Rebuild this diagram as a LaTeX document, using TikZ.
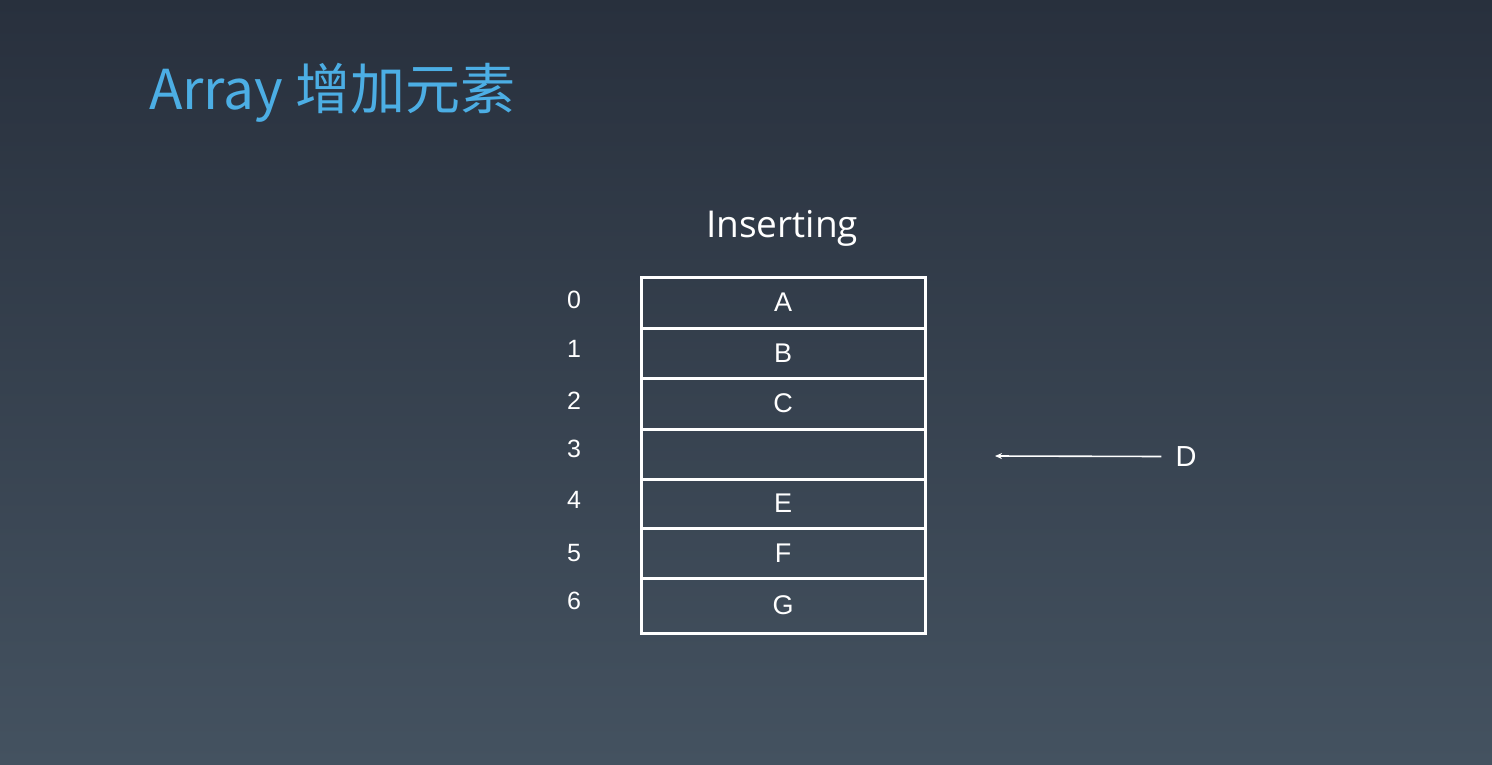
\documentclass[tikz,border=0pt]{standalone}
\usepackage{fontspec}
\setmainfont{Liberation Sans}
\newfontfamily\cjktitle{Noto Sans CJK SC}
\newfontfamily\headfont{Open Sans}
\usetikzlibrary{arrows.meta}

\definecolor{bgtop}{RGB}{40,48,61}
\definecolor{bgbot}{RGB}{68,82,96}
\definecolor{titleblue}{RGB}{76,174,228}

\tikzset{
  cell/.style={draw=white, line width=3pt, minimum width=284pt, inner sep=0pt,
               text=white, font=\fontsize{27}{30}\selectfont},
  idx/.style={text=white, inner sep=0pt, font=\fontsize{25}{28}\selectfont},
  pointer/.style={draw=white, line width=1.6pt, -{Stealth[length=7pt,width=6pt]}}
}

\begin{document}
\begin{tikzpicture}[x=1pt,y=-1pt]
  % background
  \shade[top color=bgtop, bottom color=bgbot] (0,0) rectangle (1492,764);
  \useasboundingbox (0,0) rectangle (1492,764);

  % heading
  \node[anchor=base west, inner sep=0pt, text=titleblue,
        font=\cjktitle\fontsize{55}{60}\selectfont] (title) at (149,109) {Array 增加元素};
  \node[anchor=base, inner sep=0pt, text=white,
        font=\headfont\fontsize{37}{40}\selectfont] (caption) at (782,237) {Inserting};

  % array cells
  \node[cell, minimum height=51pt] (c0) at (783,302.5) {A};
  \node[cell, minimum height=50pt] (c1) at (783,353) {B};
  \node[cell, minimum height=51pt] (c2) at (783,403.5) {C};
  \node[cell, minimum height=50pt] (c3) at (783,454) {};
  \node[cell, minimum height=49pt] (c4) at (783,503.5) {E};
  \node[cell, minimum height=50pt] (c5) at (783,553) {F};
  \node[cell, minimum height=55pt] (c6) at (783,605.5) {G};

  % indices
  \node[idx] (i0) at (574,300) {0};
  \node[idx] (i1) at (574,349) {1};
  \node[idx] (i2) at (574,401) {2};
  \node[idx] (i3) at (574,449) {3};
  \node[idx] (i4) at (574,500) {4};
  \node[idx] (i5) at (574,553) {5};
  \node[idx] (i6) at (574,601) {6};

  % element to insert
  \node[text=white, inner sep=0pt, font=\fontsize{29}{32}\selectfont] (d) at (1186,456.5) {D};
  \coordinate (slot) at (995,456);
  \draw[pointer] (d.west) ++(-14,0) coordinate (dstart) (dstart) -- (slot);
\end{tikzpicture}
\end{document}
